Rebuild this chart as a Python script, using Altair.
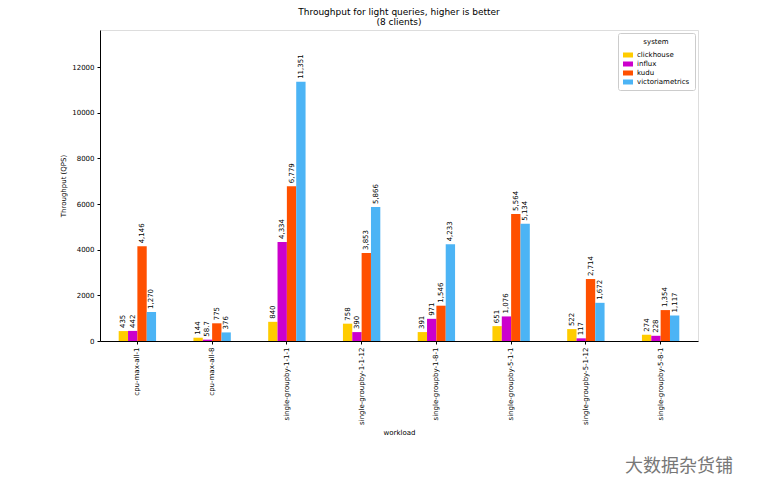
import altair as alt
import pandas as pd

workloads = ["cpu-max-all-1", "cpu-max-all-8", "single-groupby-1-1-1", "single-groupby-1-1-12",
             "single-groupby-1-8-1", "single-groupby-5-1-1", "single-groupby-5-1-12", "single-groupby-5-8-1"]
systems = ["clickhouse", "influx", "kudu", "victoriametrics"]
clickhouse = [435, 144, 840, 758, 391, 651, 522, 274]
influx = [442, 58.7, 4334, 390, 971, 1076, 117, 228]
kudu = [4146, 775, 6779, 3853, 1546, 5564, 2714, 1354]
victoriametrics = [1270, 376, 11351, 5866, 4233, 5134, 1672, 1117]
colors = ["#FFCC00", "#CC00CC", "#FF5000", "#4CB4F5"]
y_ticks = [0, 2000, 4000, 6000, 8000, 10000, 12000]

rows = []
for s, vals in zip(systems, [clickhouse, influx, kudu, victoriametrics]):
    for w, v in zip(workloads, vals):
        rows.append({"workload": w, "system": s, "qps": v, "label": f"{v:,}"})
df = pd.DataFrame(rows)

FONT = "DejaVu Sans"

x = alt.X("workload:N", sort=workloads, title="workload",
          scale=alt.Scale(paddingInner=0.5, paddingOuter=0.25),
          axis=alt.Axis(labelAngle=270, labelFontSize=7, titleFontSize=7, labelColor="black",
                        titleColor="black", titleFontWeight="normal", tickColor="black",
                        domainColor="black", labelFont=FONT, titleFont=FONT, tickSize=3,
                        labelPadding=3, titlePadding=4))
y = alt.Y("qps:Q", title="Throughput (QPS)",
          scale=alt.Scale(domain=[0, 13621], nice=False),
          axis=alt.Axis(values=y_ticks, format="d", grid=False, labelFontSize=7, titleFontSize=7,
                        labelColor="black", titleColor="black", titleFontWeight="normal",
                        tickColor="black", domainColor="black", labelFont=FONT, titleFont=FONT,
                        tickSize=3, labelPadding=3, titlePadding=5))
xoff = alt.XOffset("system:N", sort=systems)

base = alt.Chart(df)
bars = base.mark_bar().encode(
    x=x, y=y, xOffset=xoff,
    color=alt.Color("system:N", sort=systems, scale=alt.Scale(domain=systems, range=colors),
                    legend=alt.Legend(title="system", orient="top-right", titleFontSize=7,
                                      labelFontSize=7, titleFontWeight="normal", titleFont=FONT,
                                      labelFont=FONT, strokeColor="#cccccc", fillColor="white",
                                      padding=5, offset=3, cornerRadius=2,
                                      symbolType="M-1,-0.5H1V0.5H-1Z", symbolSize=100,
                                      symbolStrokeWidth=0, titleAnchor="middle",
                                      rowPadding=1, labelColor="black", titleColor="black")),
)
labels = base.mark_text(angle=270, align="left", baseline="middle", dx=3, fontSize=7,
                        font=FONT, color="black").encode(
    x=x, y=y, xOffset=xoff, text="label:N")

watermark = alt.Chart(pd.DataFrame({"t": ["大数据杂货铺"]})).mark_text(
    fontSize=18, color="#777777", font="Noto Sans CJK SC", align="left", baseline="middle"
).encode(x=alt.value(525), y=alt.value(437), text="t:N")

chart = alt.layer(bars, labels, watermark).properties(
    width=598, height=311,
    title=alt.TitleParams(["Throughput for light queries, higher is better", "(8 clients)"],
                          fontSize=9, font=FONT, fontWeight="normal", color="black",
                          anchor="middle", offset=3, lineHeight=10),
    padding={"left": 51, "top": 0, "right": 5, "bottom": 5},
).configure_view(stroke="black", strokeWidth=1).configure(background="white")

chart.save("out.html", embed_options={"renderer": "svg", "actions": False})
